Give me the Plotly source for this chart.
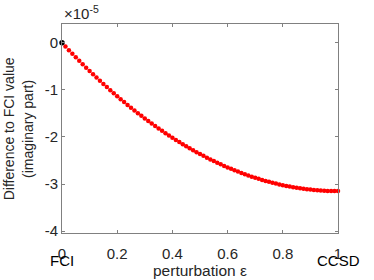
import plotly.graph_objects as go

# perturbation parameter epsilon (FCI at 0, CCSD at 1)
epsilon = [
    0.0, 0.0125, 0.025, 0.0375, 0.05, 0.0625, 0.075, 0.0875, 0.1, 0.1125,
    0.125, 0.1375, 0.15, 0.1625, 0.175, 0.1875, 0.2, 0.2125, 0.225, 0.2375,
    0.25, 0.2625, 0.275, 0.2875, 0.3, 0.3125, 0.325, 0.3375, 0.35, 0.3625,
    0.375, 0.3875, 0.4, 0.4125, 0.425, 0.4375, 0.45, 0.4625, 0.475, 0.4875,
    0.5, 0.5125, 0.525, 0.5375, 0.55, 0.5625, 0.575, 0.5875, 0.6, 0.6125,
    0.625, 0.6375, 0.65, 0.6625, 0.675, 0.6875, 0.7, 0.7125, 0.725, 0.7375,
    0.75, 0.7625, 0.775, 0.7875, 0.8, 0.8125, 0.825, 0.8375, 0.85, 0.8625,
    0.875, 0.8875, 0.9, 0.9125, 0.925, 0.9375, 0.95, 0.9625, 0.975, 0.9875,
    1.0,
]

# difference to FCI value (imaginary part), in units of 1e-5
diff_imag_e5 = [
    0.0, -0.0783, -0.1555, -0.2318, -0.3071, -0.3814, -0.4548, -0.5271, -0.5985, -0.6689,
    -0.7383, -0.8067, -0.8741, -0.9406, -1.0060, -1.0705, -1.1340, -1.1965, -1.2580, -1.3186,
    -1.3781, -1.4367, -1.4943, -1.5509, -1.6065, -1.6611, -1.7148, -1.7675, -1.8191, -1.8698,
    -1.9195, -1.9683, -2.0160, -2.0628, -2.1085, -2.1533, -2.1971, -2.2400, -2.2818, -2.3226,
    -2.3625, -2.4014, -2.4393, -2.4762, -2.5121, -2.5471, -2.5810, -2.6140, -2.6460, -2.6770,
    -2.7070, -2.7361, -2.7641, -2.7912, -2.8173, -2.8424, -2.8665, -2.8896, -2.9118, -2.9330,
    -2.9531, -2.9723, -2.9905, -3.0078, -3.0240, -3.0393, -3.0535, -3.0668, -3.0791, -3.0905,
    -3.1008, -3.1101, -3.1185, -3.1259, -3.1323, -3.1377, -3.1421, -3.1456, -3.1480, -3.1495,
    -3.1500,
]

x_ticks = [0, 0.2, 0.4, 0.6, 0.8, 1]
x_ticktext = ["0", "0.2", "0.4", "0.6", "0.8", "1"]
y_ticks = [0, -1, -2, -3, -4]
y_ticktext = ["0", "-1", "-2", "-3", "-4"]

FONT = "Liberation Sans, Arial, Helvetica, sans-serif"
TXT = "#262626"
AX = "#808080"

fig = go.Figure()
fig.add_trace(go.Scatter(
    x=epsilon[1:], y=diff_imag_e5[1:], mode="markers",
    marker=dict(color="#ff0000", size=4.5, line=dict(width=0)),
    showlegend=False, cliponaxis=False,
))
fig.add_trace(go.Scatter(
    x=epsilon[:1], y=diff_imag_e5[:1], mode="markers",
    marker=dict(color="#000000", size=5.5, line=dict(width=0)),
    showlegend=False, cliponaxis=False,
))

fig.update_layout(
    width=374, height=280,
    margin=dict(l=62, r=36, t=24, b=47, autoexpand=False),
    paper_bgcolor="white", plot_bgcolor="white",
    font=dict(family=FONT, color=TXT, size=15),
    xaxis=dict(
        range=[0, 1], tickvals=x_ticks, ticktext=x_ticktext,
        showgrid=False, zeroline=False, showline=True, linecolor=AX, linewidth=1,
        mirror="ticks", ticks="inside", ticklen=3, tickcolor=AX,
        tickfont=dict(size=15, color=TXT), ticklabelstandoff=7,
    ),
    yaxis=dict(
        range=[-4.04, 0.4], tickvals=y_ticks, ticktext=y_ticktext,
        showgrid=False, zeroline=False, showline=True, linecolor=AX, linewidth=1,
        mirror="ticks", ticks="inside", ticklen=3, tickcolor=AX,
        tickfont=dict(size=15, color=TXT),
    ),
    annotations=[
        dict(text="FCI", x=0, y=-0.082, xref="x", yref="paper", showarrow=False,
             xanchor="center", yanchor="top", font=dict(size=15, color="#000000")),
        dict(text="CCSD", x=1, y=-0.082, xref="x", yref="paper", showarrow=False,
             xanchor="center", yanchor="top", font=dict(size=15, color="#000000")),
        dict(text="perturbation ε", x=0.5, y=-0.232, xref="paper", yref="paper",
             showarrow=False, xanchor="center", yanchor="bottom",
             font=dict(size=15.5, color=TXT)),
        dict(text="Difference to FCI value<br>(imaginary part)", x=-0.16, y=0.5,
             xref="paper", yref="paper", showarrow=False, textangle=-90,
             xanchor="center", yanchor="middle", font=dict(size=14, color=TXT)),
        dict(text="×10<sup>-5</sup>", x=0, y=1.0, xref="paper", yref="paper",
             showarrow=False, xanchor="left", yanchor="bottom",
             font=dict(size=15, color=TXT)),
    ],
)

fig.write_html("out.html", config={"displayModeBar": False},
               post_script="document.body.style.margin='0px';")
